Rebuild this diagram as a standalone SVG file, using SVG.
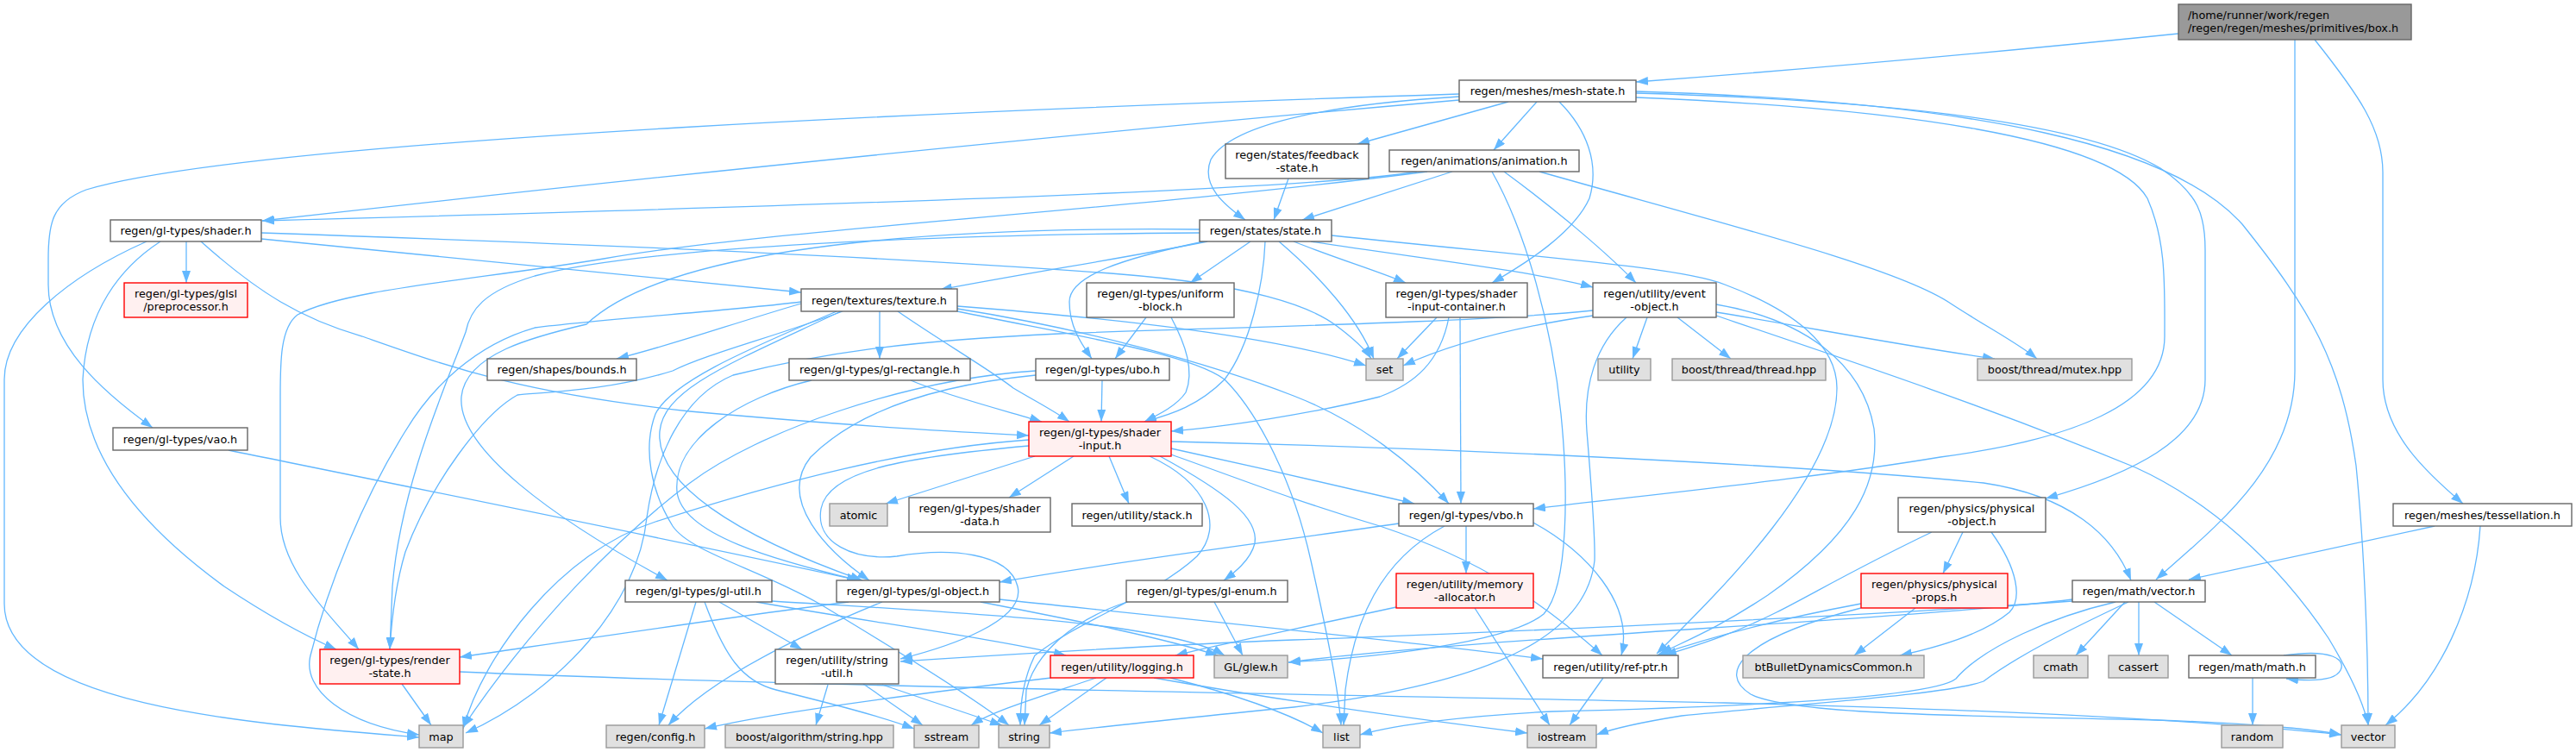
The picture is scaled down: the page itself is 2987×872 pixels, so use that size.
<svg xmlns="http://www.w3.org/2000/svg" width="2987" height="872" viewBox="0 0 2987 872">
<style>
rect{stroke-width:1.4}
.n rect{fill:#fff;stroke:#666}
.g rect{fill:#e0e0e0;stroke:#999}
.r rect{fill:#fff0f0;stroke:#f00}
.root rect{fill:#999;stroke:#666}
text{font-family:"DejaVu Sans","Liberation Sans",sans-serif;font-size:12.8px;text-anchor:middle;fill:#000}
.root text{text-anchor:start}
#edges path{fill:none;stroke:#63b8ff;stroke-width:1.3;marker-end:url(#a)}
</style>
<defs>
<marker id="a" markerUnits="userSpaceOnUse" markerWidth="14" markerHeight="10" refX="14" refY="5" orient="auto"><path d="M0,0L14,5L0,10z" fill="#63b8ff"/></marker>
</defs>
<rect width="2987" height="872" fill="#fff"/>
<g id="edges">
<path d="M2526,39 C2300,62 2100,80 1897,95"/>
<path d="M2661,46 L2661,430 C2661,540 2570,610 2500,672"/>
<path d="M2684,46 C2735,110 2763,150 2763,200 L2763,440 C2763,500 2810,545 2856,584"/>
<path d="M1692,112 C1560,120 1430,140 1404,185 C1392,215 1420,238 1444,255"/>
<path d="M1749,118 L1574,167"/>
<path d="M1782,118 L1732,174"/>
<path d="M1692,116 C1300,150 800,200 304,256"/>
<path d="M1692,109 C1200,125 300,160 100,220 C60,235 56,260 56,300 L56,330 C56,400 120,455 177,496"/>
<path d="M1808,118 C1840,150 1855,190 1843,230 C1825,270 1770,305 1730,328"/>
<path d="M1897,113 C2200,125 2450,160 2490,230 C2512,280 2510,330 2510,390 C2510,470 2400,510 2250,530 C2100,555 1900,575 1778,590"/>
<path d="M1897,108 C2250,118 2430,150 2505,195 C2550,225 2557,250 2557,290 L2557,440 C2557,510 2470,550 2372,578"/>
<path d="M1897,106 C2300,118 2520,170 2600,260 C2680,360 2715,420 2732,540 C2742,640 2746,760 2746,841"/>
<path d="M1494,207 L1477,255"/>
<path d="M1643,199 C1550,215 1200,232 304,256"/>
<path d="M1655,199 C1300,245 900,265 700,300 C550,325 400,335 345,365 C325,380 325,420 325,460 L325,600 C325,660 380,710 416,753"/>
<path d="M1684,199 L1510,255"/>
<path d="M1730,199 C1770,270 1800,380 1810,480 C1818,560 1820,680 1790,712 C1750,745 1600,762 1494,768"/>
<path d="M1744,199 C1800,240 1860,290 1897,328"/>
<path d="M1785,199 C2000,260 2200,310 2262,352 C2305,380 2340,398 2362,416"/>
<path d="M216,280 L216,328"/>
<path d="M303,277 L929,339"/>
<path d="M303,270 C600,280 1000,295 1300,318 C1450,330 1520,355 1550,378 C1570,393 1583,405 1590,416"/>
<path d="M233,280 C300,340 350,370 420,390 C520,425 600,455 800,477 C1000,495 1100,500 1193,505"/>
<path d="M186,280 C140,310 100,360 96,440 C96,520 150,600 260,680 C320,720 360,740 390,753"/>
<path d="M170,280 C80,320 5,380 5,440 L5,700 C5,820 300,840 486,855"/>
<path d="M1400,280 C1300,300 1200,315 1090,336"/>
<path d="M1396,280 C1300,300 1240,320 1240,350 C1240,380 1255,400 1266,416"/>
<path d="M1450,280 L1380,328"/>
<path d="M1467,280 C1465,330 1450,400 1420,440 C1390,470 1360,480 1327,489"/>
<path d="M1483,280 C1530,320 1575,370 1593,416"/>
<path d="M1500,280 C1550,300 1600,315 1630,328"/>
<path d="M1520,280 C1650,300 1780,315 1847,333"/>
<path d="M1544,273 C1800,300 1950,310 2000,330 C2080,360 2130,400 2130,450 C2130,550 2000,680 1921,758"/>
<path d="M1391,270 C1100,272 750,285 620,320 C560,338 545,360 540,385 C520,440 465,560 455,680 L452,753"/>
<path d="M1391,266 C1000,262 760,300 680,376 C620,390 540,410 535,460 C530,520 640,600 774,673"/>
<path d="M929,352 C850,375 780,400 715,416"/>
<path d="M1020,361 L1020,416"/>
<path d="M1041,361 C1090,395 1150,430 1175,450 C1200,465 1220,475 1240,489"/>
<path d="M977,361 C900,390 820,410 780,430 C700,455 620,455 600,458 C560,480 500,560 470,640 C458,680 454,720 452,753"/>
<path d="M929,350 C850,360 700,370 620,380 C550,400 500,450 470,500 C420,580 380,680 360,760 C350,800 400,840 486,852"/>
<path d="M975,361 C850,420 770,450 765,500 C760,560 850,620 1000,673"/>
<path d="M970,361 C880,400 780,440 760,480 C745,520 755,570 780,610 C800,640 880,660 950,700 C1050,760 1130,810 1170,841"/>
<path d="M1110,355 C1300,370 1480,390 1584,424"/>
<path d="M1110,358 C1250,380 1400,420 1500,459 C1580,490 1640,540 1680,584"/>
<path d="M1110,361 C1250,390 1380,410 1420,440 C1460,480 1500,560 1520,650 C1540,740 1552,800 1555,841"/>
<path d="M1329,368 L1293,416"/>
<path d="M1358,368 C1375,400 1385,430 1375,455 C1365,470 1345,480 1327,489"/>
<path d="M1666,368 L1620,416"/>
<path d="M1680,368 C1670,420 1640,445 1600,460 C1520,480 1420,495 1358,500"/>
<path d="M1693,368 L1694,584"/>
<path d="M1847,366 C1750,380 1680,400 1627,424"/>
<path d="M1847,360 C1700,375 1400,380 1228,387 C1050,395 950,410 850,435 C790,460 760,530 750,600 C740,700 650,800 540,850"/>
<path d="M1886,368 C1850,400 1836,447 1840,500 C1845,560 1850,620 1849,650 C1840,730 1750,790 1500,820 C1400,830 1300,840 1217,850"/>
<path d="M1910,368 L1893,416"/>
<path d="M1945,368 L2007,416"/>
<path d="M1990,353 C2090,370 2160,420 2173,497 C2180,560 2150,620 2050,690 C1990,730 1950,745 1925,758"/>
<path d="M1990,362 C2100,380 2200,400 2313,416"/>
<path d="M1990,366 C2150,420 2300,470 2476,542 C2560,580 2640,650 2700,740 C2730,790 2742,820 2746,841"/>
<path d="M1278,441 L1277,489"/>
<path d="M1201,435 C1100,445 1000,470 940,530 C900,580 960,640 1008,673"/>
<path d="M1201,430 C1050,440 880,500 800,560 C720,620 620,720 537,843"/>
<path d="M1056,441 C1100,460 1180,480 1208,489"/>
<path d="M941,441 C860,460 780,510 785,570 C790,620 900,650 996,673"/>
<path d="M265,522 C500,570 800,630 996,673"/>
<path d="M1200,529 L1027,584"/>
<path d="M1245,529 L1170,577"/>
<path d="M1286,529 L1309,584"/>
<path d="M1333,529 C1400,560 1420,610 1388,645 C1340,690 1250,720 1200,760 C1185,790 1183,820 1183,841"/>
<path d="M1345,529 C1420,570 1460,600 1455,630 C1450,650 1430,665 1419,673"/>
<path d="M1358,520 C1450,540 1560,565 1640,584"/>
<path d="M1358,527 C1450,560 1500,580 1600,610 C1720,650 1790,700 1858,760"/>
<path d="M1358,512 C1700,520 2100,540 2300,560 C2400,575 2450,620 2471,673"/>
<path d="M1193,510 C1050,520 900,560 760,605 C650,640 560,760 537,845"/>
<path d="M1193,517 C1050,530 960,545 952,590 C945,630 990,650 1040,645 C1100,635 1170,640 1180,680 C1190,720 1100,750 1044,764"/>
<path d="M1675,610 C1600,650 1570,720 1560,800 L1558,841"/>
<path d="M1700,610 L1700,665"/>
<path d="M1778,606 C1840,640 1895,700 1880,760"/>
<path d="M1622,607 C1500,625 1300,650 1159,675"/>
<path d="M2276,617 L2253,665"/>
<path d="M2240,617 C2150,660 2100,690 2060,710 C2000,740 1960,750 1930,760"/>
<path d="M2309,617 C2340,660 2345,695 2330,710 C2300,735 2250,750 2203,760"/>
<path d="M2221,705 L2150,760"/>
<path d="M2158,700 C2050,720 1980,740 1921,760"/>
<path d="M2158,705 C2020,740 1990,780 2030,805 C2080,830 2300,830 2500,835 C2600,838 2680,845 2715,852"/>
<path d="M2823,610 L2538,672"/>
<path d="M2876,610 C2870,700 2830,790 2766,841"/>
<path d="M2464,698 L2407,760"/>
<path d="M2480,698 L2480,760"/>
<path d="M2498,698 L2588,760"/>
<path d="M2403,695 C2200,720 1700,740 1494,768"/>
<path d="M2403,697 C2150,715 1700,735 1500,742 C1300,750 1150,760 1044,767"/>
<path d="M2453,698 C2380,715 2300,750 2268,787 C2240,810 2000,820 1800,825 C1700,830 1620,840 1577,852"/>
<path d="M2468,698 C2400,730 2340,760 2300,790 C2260,805 2100,815 1950,830 C1900,838 1870,845 1851,852"/>
<path d="M2648,760 C2705,752 2720,765 2714,777 C2708,790 2680,790 2651,787"/>
<path d="M2612,786 L2612,841"/>
<path d="M807,698 L764,841"/>
<path d="M817,698 C840,760 860,790 900,800 C960,815 1020,830 1060,845"/>
<path d="M834,698 L930,753"/>
<path d="M877,698 C1000,720 1150,740 1236,760"/>
<path d="M895,697 C1100,710 1350,720 1420,760"/>
<path d="M984,698 C850,715 650,745 533,762"/>
<path d="M1023,698 C920,740 820,790 775,841"/>
<path d="M1137,698 C1250,720 1350,740 1412,760"/>
<path d="M1159,695 C1350,715 1600,740 1789,764"/>
<path d="M1408,698 L1441,760"/>
<path d="M1307,698 C1240,720 1200,760 1190,800 L1188,841"/>
<path d="M1619,704 C1500,730 1400,750 1363,760"/>
<path d="M1710,705 L1797,841"/>
<path d="M466,793 L500,841"/>
<path d="M533,779 C900,795 1500,805 2000,815 C2400,825 2600,840 2715,852"/>
<path d="M960,794 L946,841"/>
<path d="M1001,793 L1070,841"/>
<path d="M1023,794 L1162,841"/>
<path d="M1219,786 C1100,800 900,825 817,845"/>
<path d="M1271,786 C1200,810 1150,825 1126,841"/>
<path d="M1283,786 L1205,841"/>
<path d="M1357,786 C1450,810 1500,830 1534,850"/>
<path d="M1338,786 C1500,815 1650,835 1771,850"/>
<path d="M1859,786 L1820,841"/>
</g>
<g id="node-box" class="root"><rect x="2526" y="5" width="270" height="41"/><text x="2537" y="22">/home/runner/work/regen</text><text x="2537" y="36.5">/regen/regen/meshes/primitives/box.h</text></g>
<g id="node-mesh" class="n"><rect x="1692" y="93" width="205" height="25"/><text x="1794.5" y="110">regen/meshes/mesh-state.h</text></g>
<g id="node-feedback" class="n"><rect x="1421" y="167" width="166" height="40"/><text x="1504" y="184">regen/states/feedback</text><text x="1504" y="198.5">-state.h</text></g>
<g id="node-anim" class="n"><rect x="1611" y="174" width="220" height="25"/><text x="1721" y="191">regen/animations/animation.h</text></g>
<g id="node-shader" class="n"><rect x="128" y="255" width="175" height="25"/><text x="215.5" y="272">regen/gl-types/shader.h</text></g>
<g id="node-state" class="n"><rect x="1391" y="255" width="153" height="25"/><text x="1467.5" y="272">regen/states/state.h</text></g>
<g id="node-prep" class="r"><rect x="144" y="328" width="143" height="40"/><text x="215.5" y="345">regen/gl-types/glsl</text><text x="215.5" y="359.5">/preprocessor.h</text></g>
<g id="node-texture" class="n"><rect x="929" y="335" width="181" height="26"/><text x="1019.5" y="352.5">regen/textures/texture.h</text></g>
<g id="node-ublock" class="n"><rect x="1260" y="328" width="171" height="40"/><text x="1345.5" y="345">regen/gl-types/uniform</text><text x="1345.5" y="359.5">-block.h</text></g>
<g id="node-sic" class="n"><rect x="1607" y="328" width="164" height="40"/><text x="1689" y="345">regen/gl-types/shader</text><text x="1689" y="359.5">-input-container.h</text></g>
<g id="node-event" class="n"><rect x="1847" y="328" width="143" height="40"/><text x="1918.5" y="345">regen/utility/event</text><text x="1918.5" y="359.5">-object.h</text></g>
<g id="node-bounds" class="n"><rect x="565" y="416" width="173" height="25"/><text x="651.5" y="433">regen/shapes/bounds.h</text></g>
<g id="node-rect" class="n"><rect x="915" y="416" width="210" height="25"/><text x="1020" y="433">regen/gl-types/gl-rectangle.h</text></g>
<g id="node-ubo" class="n"><rect x="1201" y="416" width="155" height="25"/><text x="1278.5" y="433">regen/gl-types/ubo.h</text></g>
<g id="node-set" class="g"><rect x="1584" y="416" width="43" height="25"/><text x="1605.5" y="433">set</text></g>
<g id="node-utility" class="g"><rect x="1853" y="416" width="61" height="25"/><text x="1883.5" y="433">utility</text></g>
<g id="node-thread" class="g"><rect x="1939" y="416" width="178" height="25"/><text x="2028" y="433">boost/thread/thread.hpp</text></g>
<g id="node-mutex" class="g"><rect x="2293" y="416" width="179" height="25"/><text x="2382.5" y="433">boost/thread/mutex.hpp</text></g>
<g id="node-vao" class="n"><rect x="131" y="496" width="156" height="26"/><text x="209" y="513.5">regen/gl-types/vao.h</text></g>
<g id="node-sinput" class="r"><rect x="1193" y="489" width="165" height="40"/><text x="1275.5" y="506">regen/gl-types/shader</text><text x="1275.5" y="520.5">-input.h</text></g>
<g id="node-atomic" class="g"><rect x="962" y="584" width="67" height="26"/><text x="995.5" y="601.5">atomic</text></g>
<g id="node-sdata" class="n"><rect x="1054" y="577" width="164" height="40"/><text x="1136" y="594">regen/gl-types/shader</text><text x="1136" y="608.5">-data.h</text></g>
<g id="node-stack" class="n"><rect x="1243" y="584" width="151" height="26"/><text x="1318.5" y="601.5">regen/utility/stack.h</text></g>
<g id="node-vbo" class="n"><rect x="1622" y="584" width="156" height="26"/><text x="1700" y="601.5">regen/gl-types/vbo.h</text></g>
<g id="node-physobj" class="n"><rect x="2201" y="577" width="171" height="40"/><text x="2286.5" y="594">regen/physics/physical</text><text x="2286.5" y="608.5">-object.h</text></g>
<g id="node-tess" class="n"><rect x="2775" y="584" width="207" height="26"/><text x="2878.5" y="601.5">regen/meshes/tessellation.h</text></g>
<g id="node-glutil" class="n"><rect x="725" y="673" width="170" height="25"/><text x="810" y="690">regen/gl-types/gl-util.h</text></g>
<g id="node-globj" class="n"><rect x="970" y="673" width="189" height="25"/><text x="1064.5" y="690">regen/gl-types/gl-object.h</text></g>
<g id="node-glenum" class="n"><rect x="1306" y="673" width="187" height="25"/><text x="1399.5" y="690">regen/gl-types/gl-enum.h</text></g>
<g id="node-memalloc" class="r"><rect x="1619" y="665" width="159" height="40"/><text x="1698.5" y="682">regen/utility/memory</text><text x="1698.5" y="696.5">-allocator.h</text></g>
<g id="node-physprops" class="r"><rect x="2158" y="665" width="170" height="40"/><text x="2243" y="682">regen/physics/physical</text><text x="2243" y="696.5">-props.h</text></g>
<g id="node-vecmath" class="n"><rect x="2403" y="673" width="154" height="25"/><text x="2480" y="690">regen/math/vector.h</text></g>
<g id="node-render" class="r"><rect x="371" y="753" width="162" height="40"/><text x="452" y="770">regen/gl-types/render</text><text x="452" y="784.5">-state.h</text></g>
<g id="node-strutil" class="n"><rect x="899" y="753" width="143" height="40"/><text x="970.5" y="770">regen/utility/string</text><text x="970.5" y="784.5">-util.h</text></g>
<g id="node-logging" class="r"><rect x="1218" y="760" width="166" height="26"/><text x="1301" y="777.5">regen/utility/logging.h</text></g>
<g id="node-glew" class="g"><rect x="1408" y="760" width="85" height="26"/><text x="1450.5" y="777.5">GL/glew.h</text></g>
<g id="node-refptr" class="n"><rect x="1789" y="760" width="157" height="26"/><text x="1867.5" y="777.5">regen/utility/ref-ptr.h</text></g>
<g id="node-bt" class="g"><rect x="2021" y="760" width="210" height="26"/><text x="2126" y="777.5">btBulletDynamicsCommon.h</text></g>
<g id="node-cmath" class="g"><rect x="2358" y="760" width="63" height="26"/><text x="2389.5" y="777.5">cmath</text></g>
<g id="node-cassert" class="g"><rect x="2445" y="760" width="69" height="26"/><text x="2479.5" y="777.5">cassert</text></g>
<g id="node-math" class="n"><rect x="2538" y="760" width="147" height="26"/><text x="2611.5" y="777.5">regen/math/math.h</text></g>
<g id="node-map" class="g"><rect x="486" y="841" width="51" height="26"/><text x="511.5" y="858.5">map</text></g>
<g id="node-config" class="g"><rect x="703" y="841" width="114" height="26"/><text x="760" y="858.5">regen/config.h</text></g>
<g id="node-balg" class="g"><rect x="841" y="841" width="195" height="26"/><text x="938.5" y="858.5">boost/algorithm/string.hpp</text></g>
<g id="node-sstream" class="g"><rect x="1060" y="841" width="75" height="26"/><text x="1097.5" y="858.5">sstream</text></g>
<g id="node-string" class="g"><rect x="1158" y="841" width="59" height="26"/><text x="1187.5" y="858.5">string</text></g>
<g id="node-list" class="g"><rect x="1534" y="841" width="43" height="26"/><text x="1555.5" y="858.5">list</text></g>
<g id="node-iostream" class="g"><rect x="1771" y="841" width="80" height="26"/><text x="1811" y="858.5">iostream</text></g>
<g id="node-random" class="g"><rect x="2576" y="841" width="71" height="26"/><text x="2611.5" y="858.5">random</text></g>
<g id="node-vector" class="g"><rect x="2715" y="841" width="62" height="26"/><text x="2746" y="858.5">vector</text></g>
</svg>
